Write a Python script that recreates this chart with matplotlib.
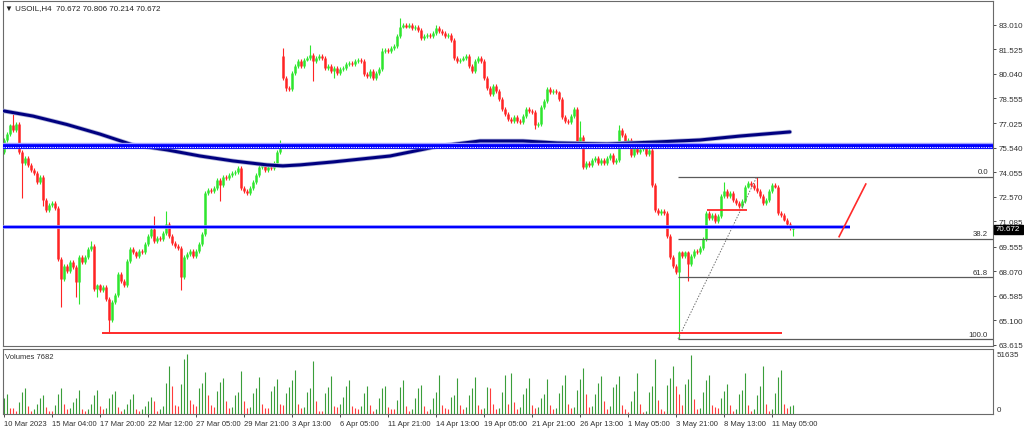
import matplotlib
matplotlib.use("Agg")
import matplotlib.pyplot as plt
from matplotlib.patches import Rectangle
import matplotlib.transforms as mtransforms

plt.rcParams['font.family'] = ['Liberation Sans', 'DejaVu Sans']

# ---- data (USOIL H4) ----
closes = [
    76.0, 76.4, 76.9, 76.6, 77.0, 75.3, 74.6, 74.9, 74.5, 74.2,
    74.0, 73.5, 73.8, 72.4, 71.8, 72.1, 72.2, 71.9, 68.8, 67.6,
    68.4, 68.1, 68.6, 68.3, 67.4, 68.9, 68.6, 68.9, 69.4, 69.6,
    67.0, 67.2, 66.9, 67.1, 66.4, 65.1, 66.2, 66.6, 67.9, 67.5,
    67.2, 68.7, 69.4, 69.2, 69.0, 69.3, 69.2, 69.7, 70.2, 70.6,
    69.9, 70.1, 70.0, 70.4, 70.9, 70.2, 69.8, 69.6, 69.5, 67.7,
    68.9, 69.1, 69.3, 69.0, 69.3, 69.7, 70.3, 72.8, 73.0, 72.9,
    73.1, 73.6, 73.3, 73.8, 73.7, 73.9, 74.0, 74.1, 74.3, 73.1,
    72.9, 72.8, 73.1, 73.5, 73.9, 74.4, 74.5, 74.2, 74.4, 74.3,
    74.6, 75.3, 75.8, 79.8, 79.2, 79.1, 80.1, 80.5, 80.8, 80.5,
    80.9, 81.0, 81.2, 80.8, 81.0, 81.1, 81.0, 80.4, 80.5, 80.2,
    80.4, 80.1, 80.3, 80.4, 80.6, 80.7, 80.6, 80.8, 80.9, 80.8,
    80.0, 79.9, 80.2, 79.8, 80.1, 80.3, 81.4, 81.5, 81.4, 81.6,
    81.7, 82.3, 82.9, 83.0, 82.9, 83.0, 82.8, 82.9, 82.7, 82.2,
    82.3, 82.4, 82.3, 82.5, 82.8, 82.6, 82.5, 82.3, 82.4, 82.1,
    81.0, 80.8, 80.9, 81.0, 81.1, 80.5, 80.2, 80.8, 81.0, 80.8,
    79.8, 79.2, 78.8, 79.3, 79.0, 78.5, 77.9, 77.6, 77.3, 77.2,
    77.4, 77.2, 77.1, 77.5, 77.9, 77.8, 77.7, 76.9, 77.0, 78.0,
    78.4, 79.1, 78.9, 79.0, 78.9, 78.5, 77.4, 77.2, 77.1, 77.5,
    77.9, 75.9, 76.2, 74.4, 74.6, 74.5, 74.8, 74.9, 74.6, 74.8,
    74.6, 74.9, 75.1, 74.7, 74.8, 76.6, 76.3, 75.9, 76.0, 75.1,
    75.6, 75.3, 75.5, 75.6, 75.2, 75.4, 73.3, 71.8, 71.6, 71.7,
    71.6, 70.2, 68.9, 68.4, 68.0, 69.2, 69.0, 69.2, 68.5, 69.0,
    69.3, 69.2, 69.5, 70.0, 71.6, 71.3, 71.5, 71.1, 71.4, 72.6,
    72.9, 72.6, 72.8, 72.4, 72.2, 72.0, 72.3, 73.2, 73.4, 73.3,
    73.1, 72.9, 72.6, 72.2, 72.4, 72.9, 73.3, 73.2, 71.6, 71.5,
    71.2, 70.9, 70.67, 70.672,
]
first_open = 75.3
gap_opens = {93: 81.1}
high_marks = {3: 77.6, 29: 69.9, 50: 71.4, 54: 71.7, 92: 76.0, 93: 81.6, 102: 81.8,
              126: 81.6, 132: 83.4, 144: 83.0, 192: 77.2, 205: 76.9, 213: 76.0,
              240: 73.5, 251: 73.80, 263: 70.806}
low_marks = {6: 72.5, 13: 72.0, 19: 65.9, 24: 66.5, 25: 66.1, 31: 66.5, 35: 64.3,
             59: 66.9, 72: 72.3, 94: 79.0, 103: 79.6, 110: 79.8, 177: 76.7,
             225: 63.96, 228: 67.5, 263: 70.214}

volumes = [  # thousands
    14, 17, 5, 5, 3, 10, 19, 22, 7, 3,
    4, 9, 14, 16, 6, 3, 3, 8, 17, 22,
    9, 4, 5, 10, 14, 21, 4, 3, 4, 9,
    16, 21, 7, 4, 5, 14, 17, 20, 6, 3,
    4, 9, 13, 17, 4, 3, 4, 7, 11, 15,
    11, 3, 4, 7, 27, 41, 24, 8, 7, 26,
    47, 52, 12, 9, 7, 22, 27, 36, 16, 8,
    6, 20, 28, 31, 11, 5, 6, 16, 19, 37,
    11, 5, 6, 18, 22, 32, 9, 5, 5, 20,
    24, 30, 9, 8, 18, 23, 29, 38, 9, 5,
    6, 19, 22, 46, 11, 3, 3, 18, 23, 33,
    7, 6, 9, 15, 24, 29, 7, 5, 4, 7,
    18, 24, 8, 3, 4, 14, 22, 24, 6, 4,
    4, 12, 23, 29, 7, 3, 4, 14, 22, 25,
    7, 3, 4, 14, 19, 34, 8, 5, 4, 15,
    16, 31, 8, 4, 6, 16, 22, 32, 8, 4,
    5, 23, 22, 9, 4, 5, 19, 34, 9, 35,
    10, 4, 6, 17, 22, 31, 8, 5, 6, 14,
    17, 30, 8, 4, 5, 18, 25, 34, 9, 5,
    6, 21, 30, 40, 17, 6, 7, 17, 27, 33,
    11, 4, 7, 23, 26, 33, 8, 4, 2, 11,
    20, 35, 9, 2, 3, 19, 24, 47, 12, 4,
    3, 25, 31, 41, 24, 17, 8, 26, 30, 51,
    13, 4, 5, 19, 29, 34, 8, 6, 5, 14,
    20, 26, 8, 3, 4, 17, 21, 35, 8, 3,
    4, 16, 24, 41, 9, 3, 4, 18, 32, 38,
    9, 5, 7, 7.7,
]

# moving average line (bar index, price)
ma_idx = [0, 9.7, 21, 32, 43, 54.4, 65.4, 76.4, 87.7, 93, 98.7, 109.7, 128.7,
          145.4, 158.7, 173, 184.4, 201, 217.7, 232, 245.4, 262]
ma_val = [77.78, 77.47, 76.96, 76.38, 75.72, 75.42, 75.05, 74.75, 74.51, 74.45, 74.51,
          74.69, 75.05, 75.66, 75.96, 75.96, 75.84, 75.78, 75.90, 76.02, 76.26, 76.51]

# drawn objects
blue_thick_level = 75.66
blue_level = 70.76
red_support = 64.29
red_short = 71.79
red_diag_x = [278.4, 287.3]
red_diag_y = [70.16, 73.35]
fib_hi, fib_lo = 73.80, 63.96
fib_levels = [0.0, 38.2, 61.8, 100.0]
fib_start, fib_peak = 225, 251

ytick_vals = [83.010, 81.525, 80.040, 78.555, 77.025, 75.540, 74.055,
              72.570, 71.085, 69.555, 68.070, 66.585, 65.100, 63.615]
ytick_labels = ["83.010", "81.525", "80.040", "78.555", "77.025", "75.540", "74.055",
                "72.570", "71.085", "69.555", "68.070", "66.585", "65.100", "63.615"]
xtick_labels = ["10 Mar 2023", "15 Mar 04:00", "17 Mar 20:00", "22 Mar 12:00",
                "27 Mar 05:00", "29 Mar 21:00", "3 Apr 13:00", "6 Apr 05:00",
                "11 Apr 21:00", "14 Apr 13:00", "19 Apr 05:00", "21 Apr 21:00",
                "26 Apr 13:00", "1 May 05:00", "3 May 21:00", "8 May 13:00",
                "11 May 05:00"]

# ---- figure ----
W, H = 1024, 431
fig = plt.figure(figsize=(W / 100, H / 100), dpi=100)


def px_axes(l, t, r, b):
    return fig.add_axes([l / W, 1 - b / H, (r - l) / W, (b - t) / H])


BULL = '#2ee62e'
BEAR = '#ff2424'
EDGE = '#6a6a6a'
TXT = '#303030'

ax = px_axes(3, 2, 993, 347)
axv = px_axes(3, 350, 993, 415)
XMIN, XMAX = -0.3, 329.7

# candles
idx = list(range(len(closes)))
opens = [first_open] + closes[:-1]
for i, p in gap_opens.items():
    opens[i] = p
tops, bots, highs, lows, cols = [], [], [], [], []
for i in idx:
    o, c = opens[i], closes[i]
    top, bot = max(o, c), min(o, c)
    if top - bot < 0.06:
        top, bot = top + 0.03, bot - 0.03
    tops.append(top)
    bots.append(bot)
    highs.append(max(high_marks.get(i, top + 0.12), top))
    lows.append(min(low_marks.get(i, bot - 0.12), bot))
    cols.append(BULL if c >= o else BEAR)

ax.vlines(idx, lows, highs, colors=cols, lw=0.8, zorder=2)
ax.vlines(idx, bots, tops, colors=cols, lw=1.8, zorder=2)

# moving average
ax.plot(ma_idx, ma_val, color='#b0b4d8', lw=3.3, zorder=3, solid_capstyle='round')
ax.plot(ma_idx, ma_val, color='#000080', lw=2.2, zorder=3, solid_capstyle='round')

# horizontal objects
ax.axhline(blue_thick_level, color='#a0a0ff', lw=4.6, zorder=4)
ax.axhline(blue_thick_level, color='#0000ff', lw=3.4, zorder=4)
ax.axhline(blue_thick_level - 0.04, color='white', lw=0.7, ls=(0, (1.2, 1.2)), zorder=5)
ax.hlines(blue_level, XMIN, 282.0, color='#9a9aff', lw=2.6, zorder=4)
ax.hlines(blue_level, XMIN, 282.0, color='#0000ff', lw=1.6, zorder=4)
ax.hlines(red_support, 32.7, 259.4, color='#ff2a2a', lw=1.4, zorder=4)
ax.hlines(red_short, 234.4, 247.7, color='#ff2a2a', lw=1.3, zorder=4)
ax.plot(red_diag_x, red_diag_y, color='#ff2a2a', lw=1.2, zorder=4)

# fibonacci
blend = mtransforms.blended_transform_factory(ax.transAxes, ax.transData)
for lvl in fib_levels:
    price = fib_hi - lvl / 100 * (fib_hi - fib_lo)
    ax.hlines(price, fib_start - 0.3, XMAX, color='#5a5a5a', lw=0.9, zorder=3)
    ax.text((988 - 3) / 990, price + 0.08, "%.1f" % lvl, transform=blend,
            ha='right', va='bottom', fontsize=5.6, color=TXT)
ax.plot([fib_start - 0.3, fib_peak], [fib_lo, fib_hi], color='#707070', lw=0.7,
        ls=(0, (1.5, 1.5)), zorder=3)

ax.set_xlim(XMIN, XMAX)
ax.set_ylim(63.531, 84.447)
ax.set_xticks([])
ax.yaxis.tick_right()
ax.set_yticks(ytick_vals)
ax.set_yticklabels(ytick_labels)
ax.tick_params(axis='y', length=2.5, width=0.6, pad=1.5, labelsize=5.8,
               colors=TXT)
for s in ax.spines.values():
    s.set_color(EDGE)
    s.set_linewidth(0.8)

# volumes
vcols = ['#3a9e3a' if i == 0 or volumes[i] > volumes[i - 1] else '#ff3c3c' for i in idx]
axv.vlines(idx, 0, volumes, colors=vcols, lw=0.8)
axv.set_xlim(XMIN, XMAX)
axv.set_ylim(0, 56)
axv.set_yticks([])
axv.set_xticks(list(range(0, 16 * len(xtick_labels), 16)))
axv.set_xticklabels(xtick_labels, ha='left')
axv.tick_params(axis='x', length=2.5, width=0.6, pad=1.5, labelsize=5.5,
                colors=TXT)
for s in axv.spines.values():
    s.set_color(EDGE)
    s.set_linewidth(0.8)


def ftext(x, y, s, **kw):
    fig.text(x / W, 1 - y / H, s, va='center', **kw)


ftext(5, 8.5, "\u25bc USOIL,H4  70.672 70.806 70.214 70.672", fontsize=5.8, color='#202020')
ftext(5, 357.5, "Volumes 7682", fontsize=5.5, color=TXT)
ftext(997, 356, "51635", fontsize=5.8, color=TXT)
ftext(997, 411, "0", fontsize=5.8, color=TXT)

# current price marker
fig.add_artist(Rectangle((993.5 / W, 1 - 234.5 / H), 29 / W, 9 / H,
                         transform=fig.transFigure, color='black', zorder=5))
ftext(995.5, 230, "70.672", fontsize=5.8, color='white', zorder=6)

fig.savefig("out.png", dpi=100, facecolor='white')
